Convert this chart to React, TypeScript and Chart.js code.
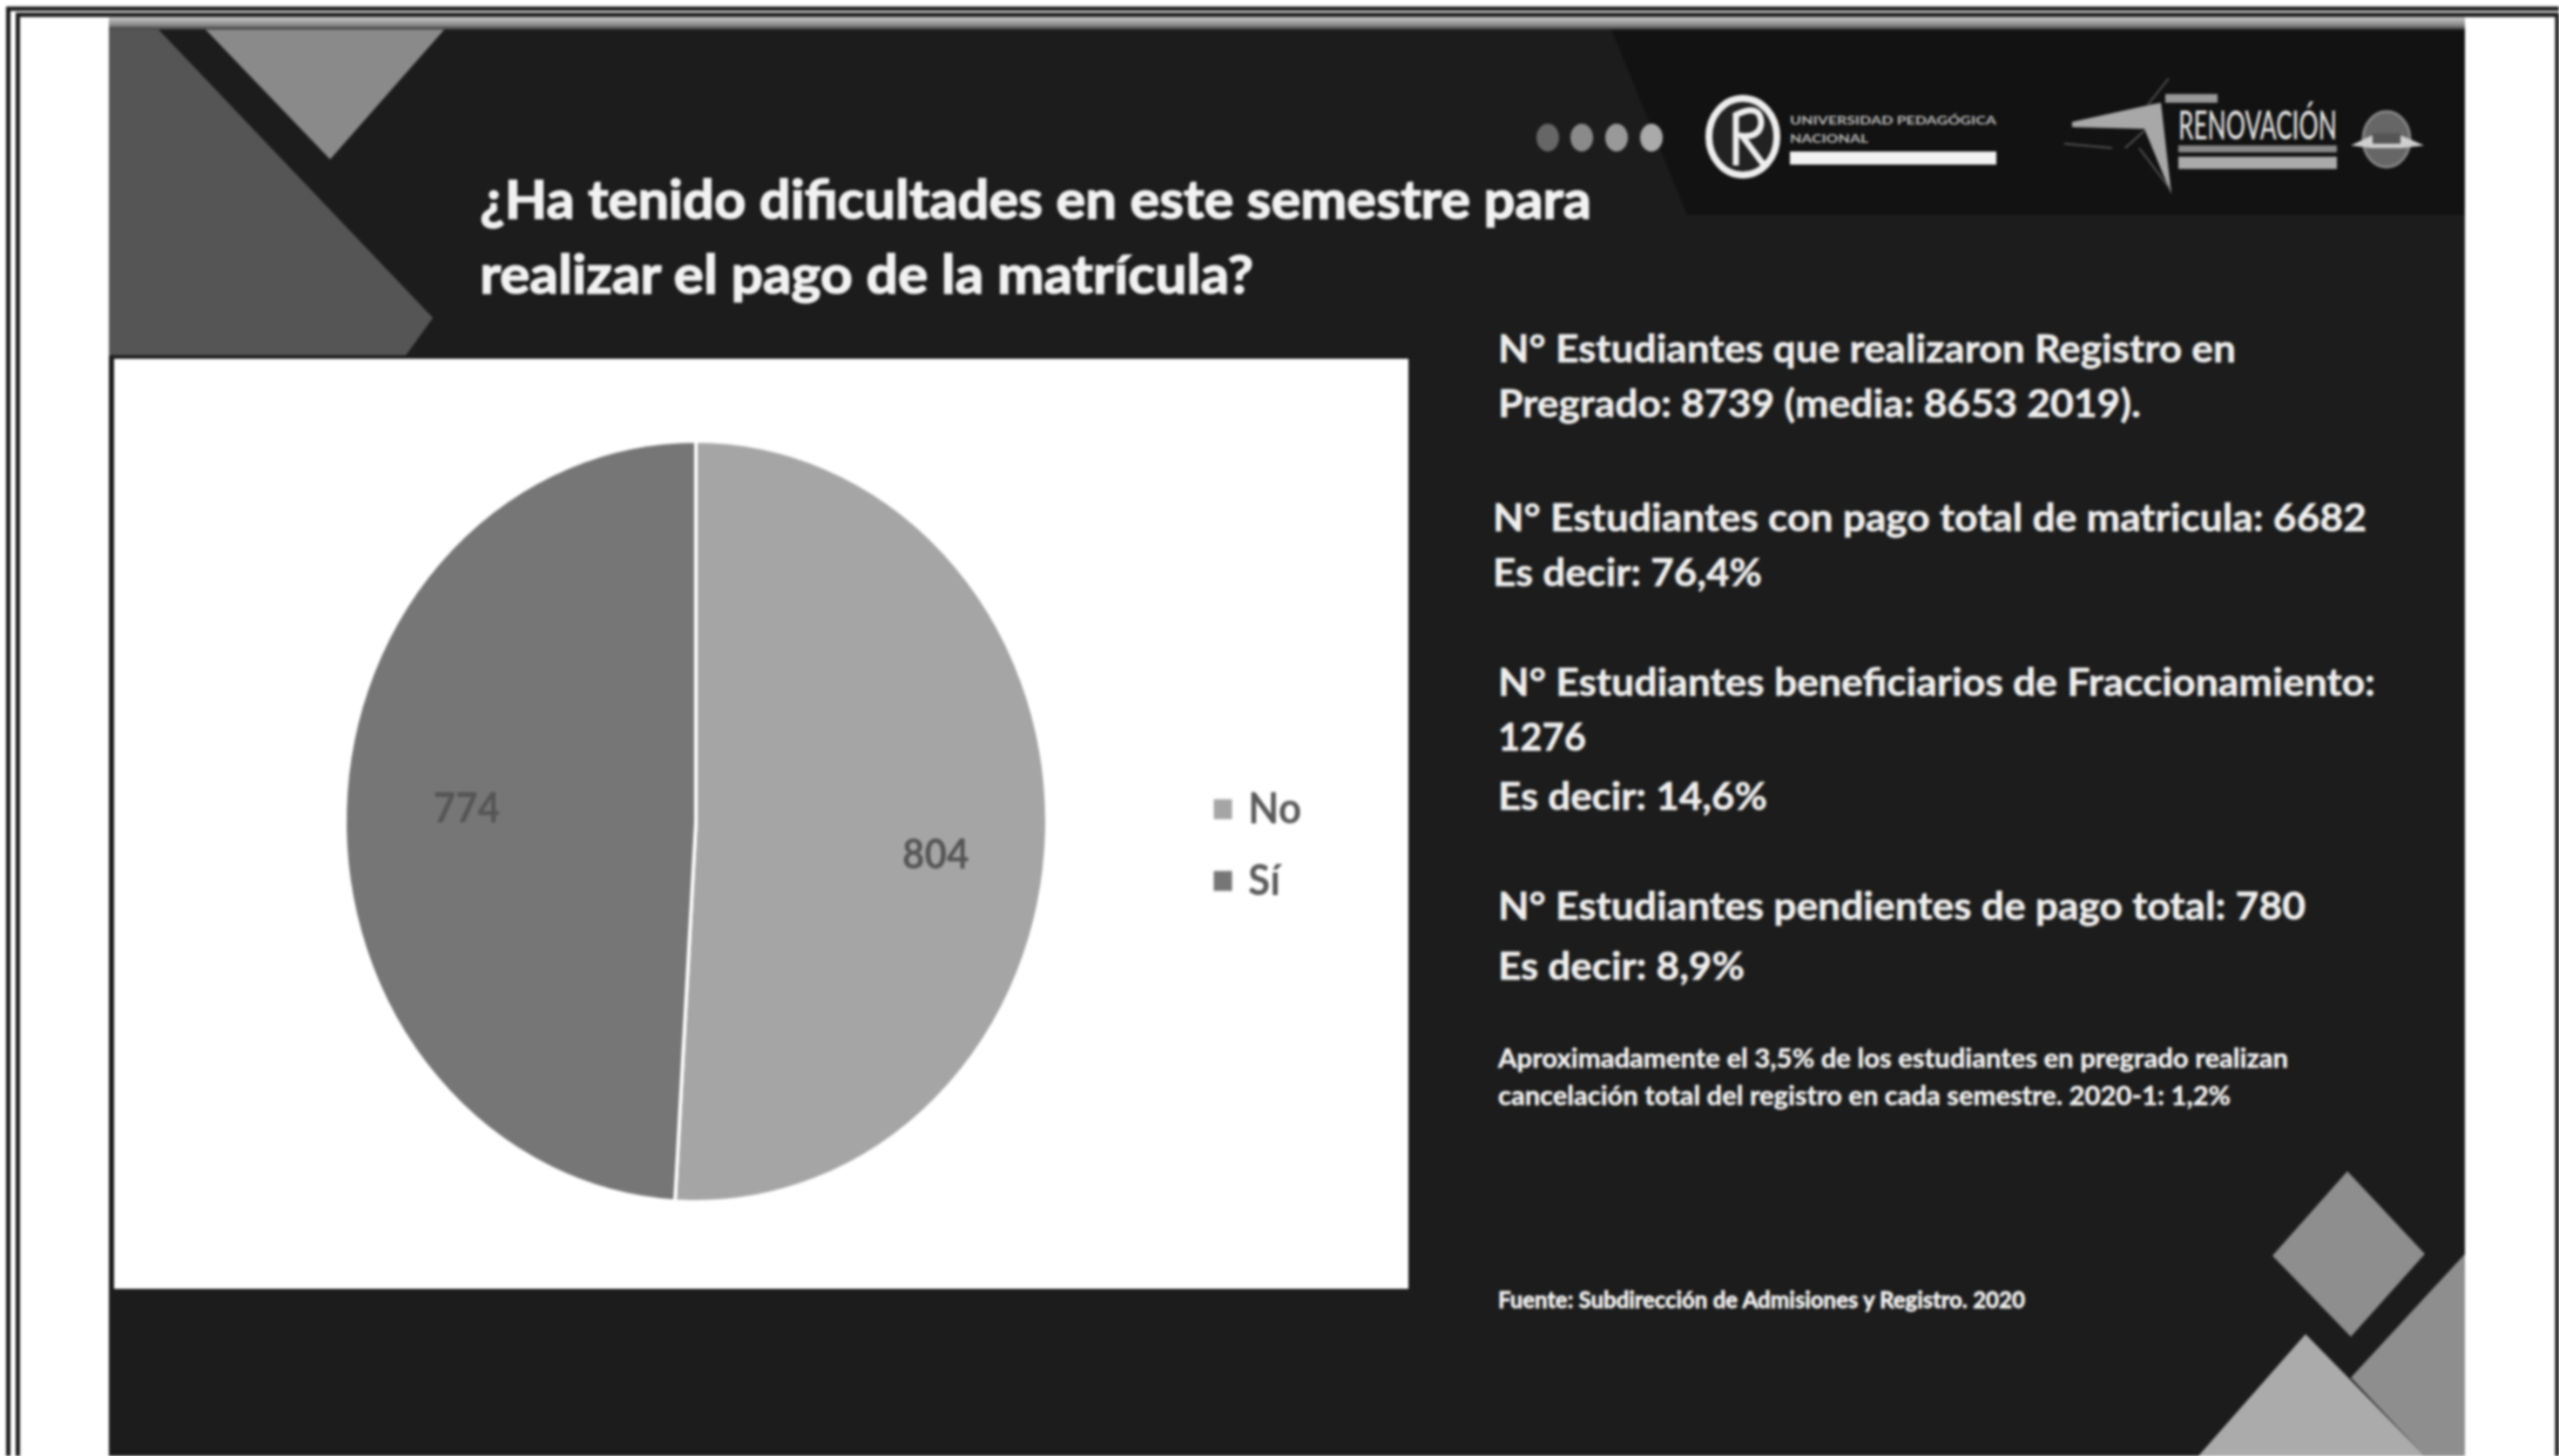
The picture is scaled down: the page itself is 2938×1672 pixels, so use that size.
import React, { useEffect, useRef } from "react";
import { Chart, registerables } from "chart.js";

Chart.register(...registerables);

const categories = ["No", "Sí"];
const values = [804, 774];
const sliceColors = ["#a5a5a5", "#767676"];

const titleLines = [
  "¿Ha tenido dificultades en este semestre para",
  "realizar el pago de la matrícula?",
];
const bodyLines = [
  "N° Estudiantes que realizaron Registro en",
  "Pregrado: 8739 (media: 8653 2019).",
  "N° Estudiantes con pago total de matricula: 6682",
  "Es decir: 76,4%",
  "N° Estudiantes beneficiarios de Fraccionamiento:",
  "1276",
  "Es decir: 14,6%",
  "N° Estudiantes pendientes de pago total: 780",
  "Es decir: 8,9%",
];
const noteLines = [
  "Aproximadamente el 3,5% de los estudiantes en pregrado realizan",
  "cancelación total del registro en cada semestre. 2020-1: 1,2%",
];
const sourceLine = "Fuente: Subdirección de Admisiones y Registro. 2020";

// [x, baseline y, width] of each text line, in page pixels
const titleBoxes = [[551, 251, 1276], [551, 337, 888]];
const bodyBoxes = [
  [1720, 416, 847], [1720, 479, 738], [1714, 610, 1003], [1714, 673, 309],
  [1720, 799, 1007], [1720, 862, 101], [1720, 930, 309], [1720, 1056, 927], [1720, 1125, 283],
];
const noteBoxes = [[1720, 1226, 907], [1720, 1269, 841]];
const sourceBox = [1720, 1502, 605];

const CANVAS_W = 1486;
const CANVAS_H = 985;
const STRETCH_Y = 1068 / CANVAS_H;

// polar placement of the value labels: degrees clockwise from the top, fraction of radius
const labelAngles = [97.5, 272.8];
const labelRadii = [0.689, 0.654];

const valueLabels = {
  id: "valueLabels",
  afterDatasetsDraw(chart: any) {
    const { ctx } = chart;
    chart.getDatasetMeta(0).data.forEach((arc: any, i: number) => {
      const a = (labelAngles[i] * Math.PI) / 180;
      const r = arc.outerRadius * labelRadii[i];
      ctx.save();
      ctx.font = "700 44px Lato";
      ctx.fillStyle = "#555555";
      ctx.textAlign = "center";
      ctx.textBaseline = "middle";
      ctx.fillText(String(values[i]), arc.x + r * Math.sin(a), arc.y - r * Math.cos(a));
      ctx.restore();
    });
  },
};

const legendPlacement = {
  id: "legendPlacement",
  afterLayout(chart: any) {
    const l = chart.legend;
    const w = l.width;
    const h = l.height;
    l.left = 1237;
    l.right = l.left + w;
    l.top = 424;
    l.bottom = l.top + h;
  },
};

function Line({ text, box, size, weight, fill, thicken }: any) {
  return (
    <text
      x={box[0]}
      y={box[1]}
      textLength={box[2]}
      lengthAdjust="spacingAndGlyphs"
      fontFamily="Lato"
      fontSize={size}
      fontWeight={weight}
      fill={fill}
      stroke={fill}
      strokeWidth={thicken}
    >
      {text}
    </text>
  );
}

export default function App() {
  const ref = useRef<HTMLCanvasElement>(null);

  useEffect(() => {
    const chart = new Chart(ref.current as HTMLCanvasElement, {
      type: "pie",
      data: {
        labels: categories,
        datasets: [
          {
            data: values,
            backgroundColor: sliceColors,
            borderColor: "#ffffff",
            borderWidth: 4,
            radius: 403,
          } as any,
        ],
      },
      options: {
        animation: false,
        responsive: false,
        devicePixelRatio: 1,
        layout: { padding: { left: 0, top: 0, right: 150, bottom: 5 } },
        plugins: {
          title: { display: false },
          tooltip: { enabled: false },
          legend: {
            position: "chartArea" as any,
            align: "start",
            labels: {
              usePointStyle: true,
              pointStyle: "rect",
              boxWidth: 12,
              boxHeight: 25,
              padding: 30,
              color: "#595959",
              font: { family: "Lato", size: 46, weight: 700 },
            },
          },
        },
      },
      plugins: [valueLabels, legendPlacement],
    });
    return () => chart.destroy();
  }, []);

  return (
    <div
      style={{
        position: "absolute",
        left: 0,
        top: 0,
        width: 2938,
        height: 1672,
        background: "#ffffff",
        overflow: "hidden",
      }}
    >
      <div style={{ position: "absolute", left: 0, top: 0, width: 2938, height: 1672, filter: "blur(1.7px)" }}>
        <svg width={2938} height={1672} style={{ position: "absolute", left: 0, top: 0 }}>
          <defs>
            <linearGradient id="slideTop" x1="0" y1="0" x2="0" y2="1">
              <stop offset="0" stopColor="#c4c4c4" />
              <stop offset="0.6" stopColor="#8c8c8c" />
              <stop offset="1" stopColor="#3a3a3a" />
            </linearGradient>
          </defs>
          {/* page frame */}
          <rect x={9.5} y={10} width={2960} height={1720} fill="none" stroke="#1a1a1a" strokeWidth={5} />
          <rect x={20.5} y={17} width={2915.5} height={1720} fill="none" stroke="#1a1a1a" strokeWidth={5} />
          {/* slide */}
          <rect x={125} y={20} width={2705} height={14} fill="url(#slideTop)" />
          <rect x={125} y={34} width={2705} height={1638} fill="#1c1c1c" />
          <polygon points="125,34 182,34 497,365 466,408 125,408" fill="#555555" />
          <polygon points="236,34 510,34 379,183" fill="#8a8a8a" />
          <polygon points="1850,34 2830,34 2830,247 1937,247" fill="#121212" />
          {/* header dots */}
          <ellipse cx={1777} cy={158} rx={13} ry={16} fill="#666" />
          <ellipse cx={1816} cy={158} rx={13} ry={16} fill="#8a8a8a" />
          <ellipse cx={1856} cy={158} rx={13} ry={16} fill="#999" />
          <ellipse cx={1896} cy={158} rx={13} ry={16} fill="#aaa" />
          {/* university logo */}
          <ellipse cx={2001} cy={157} rx={39} ry={44} fill="#222" stroke="#eee" strokeWidth={8} />
          <path d="M1993 190 L1993 132 Q2022 118 2022 142 Q2020 158 2000 156 L2024 188" fill="none" stroke="#eee" strokeWidth={7} />
          <text x={2055} y={143} textLength={237} lengthAdjust="spacingAndGlyphs" fontFamily="Lato" fontWeight={700} fontSize={14} fill="#bbb">UNIVERSIDAD PEDAGÓGICA</text>
          <text x={2055} y={164} textLength={90} lengthAdjust="spacingAndGlyphs" fontFamily="Lato" fontWeight={700} fontSize={14} fill="#bbb">NACIONAL</text>
          <rect x={2055} y={174} width={237} height={15} fill="#f2f2f2" />
          {/* renewal logo */}
          <polygon points="2379,140 2470,120 2481,118 2493,223 2462,148 2379,146" fill="#a8a8a8" />
          <path d="M2466 120 L2490 90 M2462 150 L2440 170 M2370 165 L2425 170 M2456 170 L2490 215" stroke="#555" strokeWidth={2} fill="none" />
          <rect x={2486} y={108} width={60} height={10} fill="#999" />
          <text x={2501} y={160} textLength={182} lengthAdjust="spacingAndGlyphs" fontFamily="Lato" fontWeight={500} fontSize={46} fill="#e4e4e4">RENOVACIÓN</text>
          <rect x={2501} y={167} width={182} height={8} fill="#888" />
          <rect x={2501} y={180} width={182} height={14} fill="#aaa" />
          <ellipse cx={2740} cy={160} rx={27} ry={32} fill="#666" stroke="#888" strokeWidth={3} />
          <polygon points="2699,167 2722,156 2758,156 2783,167 2758,170 2722,170" fill="#cfcfcf" />
          <rect x={2724} y={153} width={32} height={12} fill="#555" />
          {/* lower-right decoration */}
          <polygon points="2830,1440 2699,1582 2784,1672 2830,1672" fill="#8e8e8e" />
          <polygon points="2647,1532 2524,1672 2784,1672" fill="#ababab" />
          <polygon points="2695,1345 2784,1440 2699,1535 2609,1442" fill="#8e8e8e" />
          {/* text */}
          {titleLines.map((t, i) => (
            <Line key={t} text={t} box={titleBoxes[i]} size={62} weight={700} fill="#f2f2f2" thicken={1.6} />
          ))}
          {bodyLines.map((t, i) => (
            <Line key={t} text={t} box={bodyBoxes[i]} size={44} weight={700} fill="#eeeeee" thicken={0.6} />
          ))}
          {noteLines.map((t, i) => (
            <Line key={t} text={t} box={noteBoxes[i]} size={31} weight={700} fill="#f2f2f2" thicken={0.5} />
          ))}
          <Line text={sourceLine} box={sourceBox} size={27} weight={700} fill="#f2f2f2" thicken={0.8} />
        </svg>
        <div
          style={{
            position: "absolute",
            left: 131,
            top: 412,
            width: CANVAS_W,
            height: 1068,
            background: "#ffffff",
          }}
        >
          <canvas
            ref={ref}
            width={CANVAS_W}
            height={CANVAS_H}
            style={{
              display: "block",
              width: CANVAS_W,
              height: CANVAS_H,
              transformOrigin: "0 0",
              transform: `scaleY(${STRETCH_Y})`,
            }}
          />
        </div>
      </div>
    </div>
  );
}
